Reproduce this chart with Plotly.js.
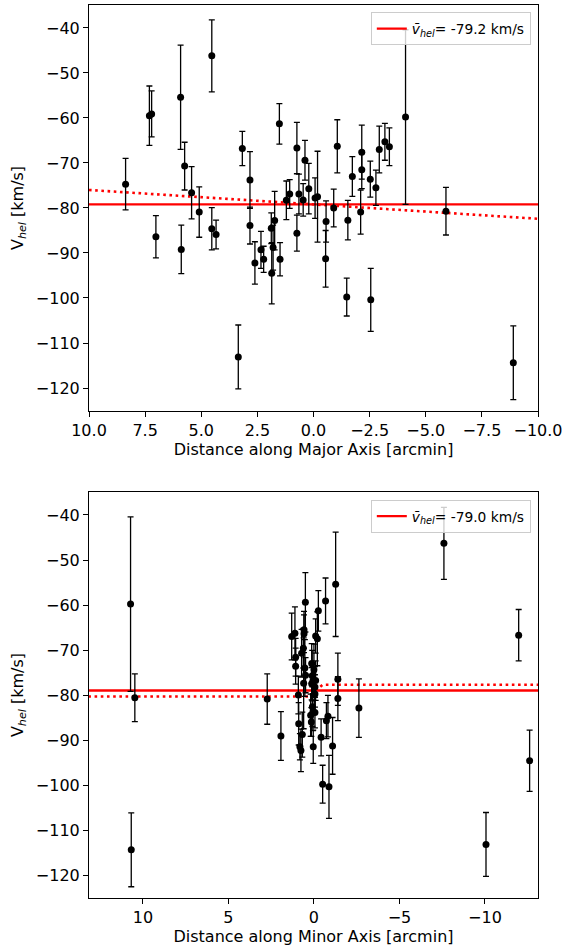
<!DOCTYPE html>
<html>
<head>
<meta charset="utf-8">
<script src="https://cdn.plot.ly/plotly-3.0.1.min.js"></script>
<style>html,body{margin:0;padding:0;background:#fff;}#plot{width:564px;height:946px;}</style>
</head>
<body>
<div id="plot"></div>
<script>
// Top panel: distance along major axis (arcmin), velocity and error (km/s)
const majX = [8.37,7.31,7.21,5.92,5.74,5.43,4.53,5.09,3.17,2.83,1.52,0.74,0.38,0.21,0.65,1.06,1.21,0.46,-0.07,-0.18,7.02,5.89,4.53,4.34,3.35,2.83,2.61,2.34,2.22,1.88,1.73,1.80,1.86,1.49,0.74,-0.56,-0.54,-0.90,-1.53,-2.10,-5.90,-1.48,-2.55,-8.90,-4.10,-1.06,-1.73,-2.15,-2.15,-2.53,-2.78,-2.93,-3.18,-3.38];
const majV = [-74.7,-59.5,-59.1,-55.4,-70.7,-76.6,-46.2,-80.9,-66.8,-73.8,-61.3,-66.7,-69.4,-75.7,-76.9,-76.9,-78.3,-78.2,-77.8,-77.5,-86.4,-89.2,-84.6,-85.9,-113.1,-83.9,-92.2,-89.3,-91.4,-84.5,-82.8,-88.8,-94.5,-91.4,-85.6,-83.0,-91.3,-80.0,-82.7,-80.9,-80.7,-99.8,-100.4,-114.4,-59.8,-66.3,-73.0,-67.6,-71.5,-73.6,-75.5,-67.0,-65.3,-66.4];
const majErr = [5.7,6.6,5.1,11.6,5.3,5.8,8.0,5.6,3.8,6.3,4.5,5.7,4.4,5.6,4.4,3.2,4.3,3.6,4.5,10.1,4.7,5.4,4.7,3.2,7.1,4.1,4.7,4.1,2.9,3.4,6.5,5.0,6.8,3.7,4.0,4.6,6.3,4.2,4.4,4.9,5.3,4.2,7.0,8.2,19.4,5.9,4.4,6.0,4.2,4.0,3.9,5.2,4.1,4.2];
const majMean = -79.2;
const majMeanX = [12, -12];
const majFitX = [10, -10];
const majFitY = [-76.0, -82.4];

// Bottom panel: distance along minor axis (arcmin)
const minX = [10.72,10.47,10.68,2.73,1.93,-2.63,-0.51,-0.88,-10.06,-12.61,-7.60,-11.97,-1.27,-0.68,0.50,-0.26,1.30,1.11,0.58,0.58,-0.10,-0.20,1.07,1.07,0.72,0.62,0.53,0.49,0.13,0.00,-0.10,0.06,-0.06,0.60,-1.40,-1.40,0.91,0.13,-0.06,0.89,0.68,0.82,0.76,0.19,0.06,-0.06,0.15,0.04,-0.42,-0.73,-0.82,-1.09,0.09,0.10];
const minV = [-59.8,-80.6,-114.4,-80.9,-89.1,-82.9,-99.8,-100.4,-113.2,-94.6,-46.3,-66.7,-55.4,-59.1,-59.4,-61.3,-67.0,-66.3,-65.5,-66.4,-66.9,-67.5,-71.6,-73.6,-70.7,-69.6,-74.0,-75.6,-73.0,-74.4,-76.8,-76.9,-78.2,-77.4,-76.5,-80.8,-80.0,-77.5,-79.8,-86.4,-88.8,-91.5,-92.3,-84.5,-83.8,-83.9,-86.0,-91.5,-89.4,-85.7,-84.7,-91.3,-82.6,-75.7];
const minErr = [19.4,5.3,8.2,5.6,5.4,6.5,4.2,7.0,7.1,6.8,8.0,5.7,11.6,5.1,6.6,4.5,5.2,5.9,4.1,4.2,3.8,6.0,4.2,4.0,5.3,4.4,6.3,3.9,4.4,5.7,4.4,3.2,4.5,10.1,5.8,4.9,4.2,3.6,4.3,4.7,5.0,2.9,4.7,4.7,4.1,3.4,3.2,3.7,4.1,4.0,4.6,6.3,4.4,5.6];
const minMean = -79.0;
const minMeanX = [15, -15];
const minFitX = [15, 0.3, -0.5, -15];
const minFitY = [-80.33, -80.33, -77.73, -77.73];

const FONT = 'DejaVu Sans, sans-serif';

function pts(x, y, e, xa, ya) {
  return {x: x, y: y, xaxis: xa, yaxis: ya, type: 'scatter', mode: 'markers',
    marker: {color: 'black', size: 7},
    error_y: {type: 'data', array: e, visible: true, color: 'black', thickness: 1.3, width: 3},
    showlegend: false, hoverinfo: 'skip'};
}
function meanLine(xs, m, xa, ya, legend) {
  return {x: xs, y: xs.map(() => m), xaxis: xa, yaxis: ya, type: 'scatter', mode: 'lines',
    line: {color: '#ff0000', width: 2.3},
    name: '<i>v\u0304</i><sub><i>hel</i></sub>= ' + m.toFixed(1) + ' km/s',
    legend: legend, showlegend: true, hoverinfo: 'skip'};
}
function fitLine(xs, ys, xa, ya) {
  return {x: xs, y: ys, xaxis: xa, yaxis: ya, type: 'scatter', mode: 'lines',
    line: {color: '#ff0000', width: 2.6, dash: '2.6px,3.6px'},
    showlegend: false, hoverinfo: 'skip'};
}

const data = [
  fitLine(majFitX, majFitY, 'x', 'y'),
  meanLine(majMeanX, majMean, 'x', 'y', 'legend'),
  pts(majX, majV, majErr, 'x', 'y'),
  fitLine(minFitX, minFitY, 'x2', 'y2'),
  meanLine(minMeanX, minMean, 'x2', 'y2', 'legend2'),
  pts(minX, minV, minErr, 'x2', 'y2')
];

const axBase = {
  showgrid: false, zeroline: false, showline: true, mirror: true,
  linecolor: 'black', linewidth: 1, ticks: 'outside', ticklen: 5, tickwidth: 1,
  tickcolor: 'black', tickfont: {family: FONT, size: 16, color: 'black'},
  automargin: false
};
const ttl = (t, s) => ({text: t, standoff: s, font: {family: FONT, size: 16, color: 'black'}});

const legBase = {
  bgcolor: 'rgba(255,255,255,0.8)', bordercolor: '#cccccc', borderwidth: 1,
  font: {family: FONT, size: 13.8, color: 'black'},
  xanchor: 'right', yanchor: 'top', x: 0.984
};

const layout = {
  width: 564, height: 946,
  margin: {l: 89, r: 26, t: 5, b: 48},
  paper_bgcolor: 'white', plot_bgcolor: 'white',
  font: {family: FONT, size: 16, color: 'black'},
  xaxis: Object.assign({}, axBase, {domain: [0, 1], anchor: 'y', range: [10, -10],
    tick0: 0, dtick: 2.5, tickformat: '.1f', title: ttl('Distance along Major Axis [arcmin]', 0)}),
  yaxis: Object.assign({}, axBase, {domain: [0.5454, 1], anchor: 'x', range: [-125.1, -34.9],
    tick0: 0, dtick: 10, title: ttl('V<sub><i>hel</i></sub> [km/s]', 8)}),
  xaxis2: Object.assign({}, axBase, {domain: [0, 1], anchor: 'y2', range: [13.15, -13.1],
    tick0: 0, dtick: 5, title: ttl('Distance along Minor Axis [arcmin]', 2)}),
  yaxis2: Object.assign({}, axBase, {domain: [0, 0.4546], anchor: 'x2', range: [-125.1, -34.9],
    tick0: 0, dtick: 10, title: ttl('V<sub><i>hel</i></sub> [km/s]', 8)}),
  legend: Object.assign({}, legBase, {y: 0.992}),
  legend2: Object.assign({}, legBase, {y: 0.446})
};

Plotly.newPlot('plot', data, layout, {displayModeBar: false, staticPlot: true});
</script>
</body>
</html>
